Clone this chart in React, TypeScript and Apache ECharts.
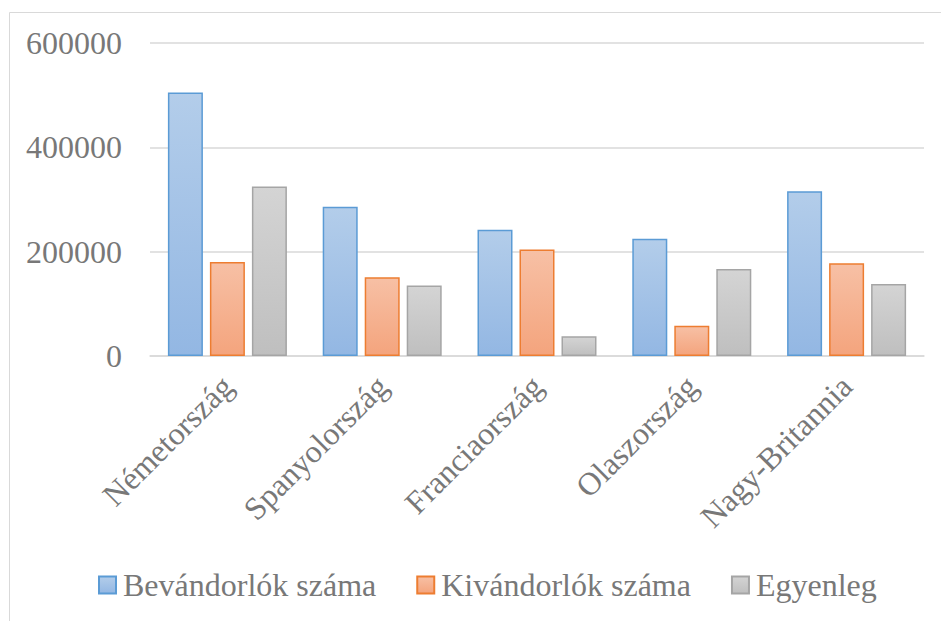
import React, { useEffect, useRef } from "react";
import * as echarts from "echarts";

const categories = ["Németország", "Spanyolország", "Franciaország", "Olaszország", "Nagy-Britannia"];
const seriesNames = ["Bevándorlók száma", "Kivándorlók száma", "Egyenleg"];
const bevandorlok = [505000, 286000, 242000, 225000, 316000];
const kivandorlok = [180000, 151000, 204000, 58000, 178000];
const egyenleg = [325000, 135000, 38000, 167000, 138000];
const yTicks = { min: 0, max: 600000, interval: 200000 };

const FONT = "'Liberation Serif', 'Times New Roman', serif";
const TEXT = "#787878";

const grad = (top: string, bottom: string) =>
  new echarts.graphic.LinearGradient(0, 0, 0, 1, [
    { offset: 0, color: top },
    { offset: 1, color: bottom },
  ]);

const styles = [
  { top: "#b3cdea", bottom: "#93b7e3", border: "#5b9bd5" },
  { top: "#f7c0a5", bottom: "#f4a47d", border: "#ed7d31" },
  { top: "#d4d4d4", bottom: "#bfbfbf", border: "#a5a5a5" },
];

export default function App() {
  const ref = useRef<HTMLDivElement>(null);
  useEffect(() => {
    if (!ref.current) return;
    const chart = echarts.init(ref.current, undefined, { renderer: "svg" });
    const data = [bevandorlok, kivandorlok, egyenleg];
    chart.setOption({
      animation: false,
      backgroundColor: "#ffffff",
      textStyle: { fontFamily: FONT },
      graphic: [
        {
          type: "rect",
          shape: { x: 9.5, y: 12.5, width: 1000, height: 700 },
          style: { fill: "none", stroke: "#d9d9d9", lineWidth: 1 },
          silent: true,
        },
      ],
      grid: { left: 150, right: 17, top: 43, bottom: 265, containLabel: false },
      legend: {
        left: 93,
        top: 564,
        itemWidth: 17,
        itemHeight: 17,
        itemGap: 40,
        icon: "rect",
        textStyle: { fontFamily: FONT, fontSize: 32, color: TEXT, padding: [0, 0, 0, 2] },
        data: seriesNames,
      },
      xAxis: {
        type: "category",
        data: categories,
        axisLine: { show: true, lineStyle: { color: "#d9d9d9", width: 1.5 } },
        axisTick: { show: false },
        axisLabel: {
          rotate: 45,
          interval: 0,
          margin: 25,
          fontFamily: FONT,
          fontSize: 32,
          color: TEXT,
        },
      },
      yAxis: {
        type: "value",
        min: yTicks.min,
        max: yTicks.max,
        interval: yTicks.interval,
        axisLine: { show: false },
        axisTick: { show: false },
        splitLine: { lineStyle: { color: "#d9d9d9", width: 1.5 } },
        axisLabel: {
          margin: 28,
          fontFamily: FONT,
          fontSize: 32,
          color: TEXT,
          formatter: (v: number) => String(v),
        },
      },
      series: seriesNames.map((name, i) => ({
        name,
        type: "bar",
        data: data[i],
        barWidth: 35,
        barGap: "20%",
        itemStyle: {
          color: grad(styles[i].top, styles[i].bottom),
          borderColor: styles[i].border,
          borderWidth: 1.5,
        },
      })),
    });
    return () => chart.dispose();
  }, []);
  return (
    <div
      ref={ref}
      style={{ position: "fixed", left: 0, top: 0, width: 941, height: 621 }}
    />
  );
}
